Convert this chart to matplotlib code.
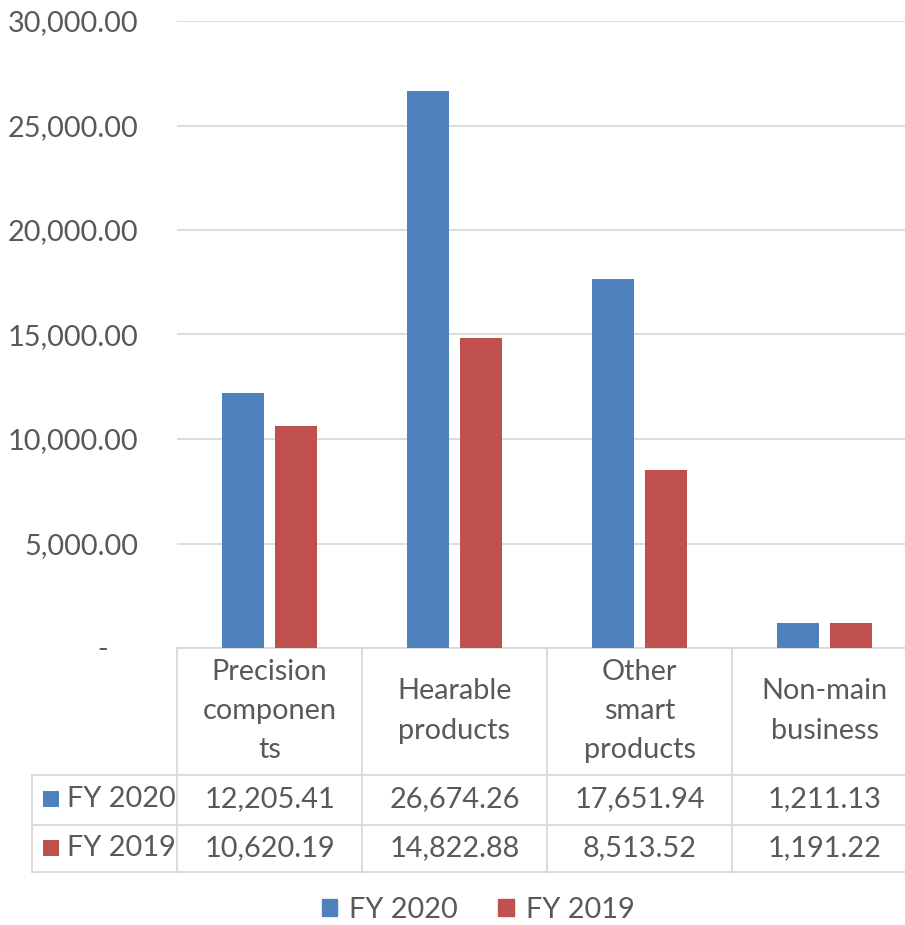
import matplotlib.pyplot as plt
from matplotlib.patches import Rectangle, Patch
from matplotlib.lines import Line2D
import matplotlib.transforms as mtransforms

plt.rcParams['font.family'] = ['Lato', 'DejaVu Sans']

categories = ['Precision\ncomponen\nts', 'Hearable\nproducts', 'Other\nsmart\nproducts', 'Non-main\nbusiness']
fy2020 = [12205.41, 26674.26, 17651.94, 1211.13]
fy2019 = [10620.19, 14822.88, 8513.52, 1191.22]
series_names = ['FY 2020', 'FY 2019']
colors = ['#4F81BD', '#C0504D']
yticks = [0, 5000, 10000, 15000, 20000, 25000, 30000]

W, H = 905, 925
txt = '#595959'
grid = '#D9D9D9'
fs = 20.8

fig = plt.figure(figsize=(W / 100, H / 100), dpi=100)

def fy(py):
    return 1 - py / H

ax = fig.add_axes([177 / W, fy(648), (917 - 177) / W, (648 - 21) / H])
ax.set_xlim(-0.5, 3.5)
ax.set_ylim(0, 30000)

x = list(range(len(categories)))
bw = 0.228
off = 0.144
ax.bar([i - off for i in x], fy2020, width=bw, color=colors[0], zorder=3)
ax.bar([i + off for i in x], fy2019, width=bw, color=colors[1], zorder=3)

ax.set_yticks(yticks)
ax.set_yticklabels(['-    '] + [f'{v:,.2f}' for v in yticks[1:]], fontsize=fs, color=txt)
ax.tick_params(axis='y', length=0, pad=28)
ax.set_xticks([])
ax.grid(axis='y', color=grid, linewidth=1.3, zorder=0)
for s in ['top', 'right', 'left']:
    ax.spines[s].set_visible(False)
ax.spines['bottom'].set_color(grid)
ax.spines['bottom'].set_linewidth(1.3)

# data table below the axis
tr = mtransforms.blended_transform_factory(ax.transData, fig.transFigure)
lw = 1.3
for b in [-0.5, 0.5, 1.5, 2.5, 3.5]:
    fig.add_artist(Line2D([b, b], [fy(648), fy(872)], transform=tr, color=grid, lw=lw))
for py in [775, 825, 872]:
    fig.add_artist(Line2D([32 / W, 1.02], [fy(py), fy(py)], transform=fig.transFigure, color=grid, lw=lw))
fig.add_artist(Line2D([32 / W, 32 / W], [fy(775), fy(872)], transform=fig.transFigure, color=grid, lw=lw))

for i, c in enumerate(categories):
    fig.text(i, fy(711), c, transform=tr, ha='center', va='center', fontsize=fs,
             color=txt, linespacing=1.62)

for r, (name, vals, col, py) in enumerate(zip(series_names, [fy2020, fy2019], colors, [799, 848])):
    fig.add_artist(Rectangle((43 / W, fy(py + 8)), 16 / W, 16 / H, transform=fig.transFigure,
                             color=col, lw=0))
    fig.text(67 / W, fy(py), name, ha='left', va='center', fontsize=fs, color=txt)
    for i, v in enumerate(vals):
        fig.text(i, fy(py), f'{v:,.2f}', transform=tr, ha='center', va='center',
                 fontsize=fs, color=txt)

handles = [Patch(color=colors[0], label=series_names[0]), Patch(color=colors[1], label=series_names[1])]
fig.legend(handles=handles, loc='center', bbox_to_anchor=(478 / W, fy(910)), ncol=2,
           frameon=False, fontsize=fs, labelcolor=txt, handlelength=0.55, handleheight=0.55,
           handletextpad=0.4, columnspacing=1.4)

fig.savefig('out.png', dpi=100)
